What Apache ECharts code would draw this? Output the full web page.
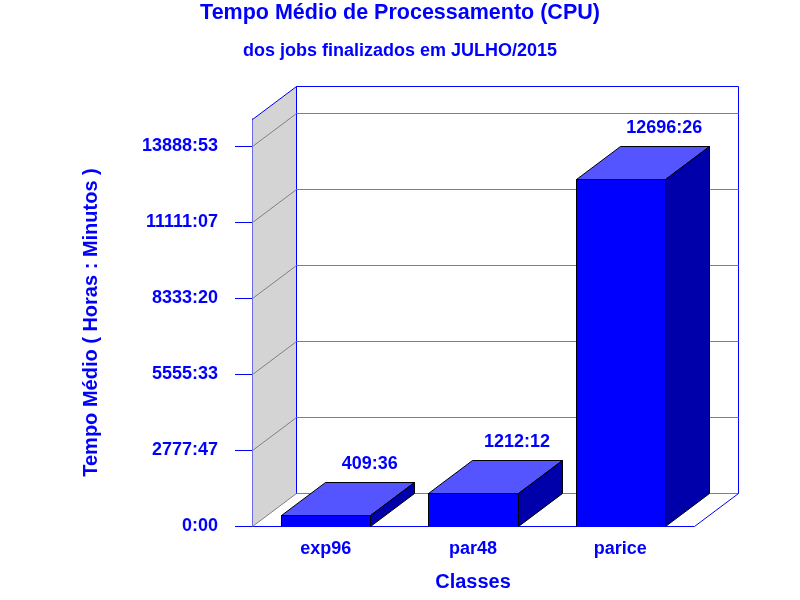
<!DOCTYPE html>
<html><head><meta charset="utf-8">
<style>html,body{margin:0;padding:0;background:#fff}#c{width:800px;height:600px}</style>
<script src="https://cdn.jsdelivr.net/npm/echarts@6/dist/echarts.min.js"></script>
</head><body><div id="c"></div>
<script>
const categories = ['exp96', 'par48', 'parice'];
const hours = [409.6, 1212.2, 12696.43];
const valueLabels = ['409:36', '1212:12', '12696:26'];
const tickValues = [0, 2777.78, 5555.55, 8333.33, 11111.12, 13888.88];
const tickLabels = ['0:00', '2777:47', '5555:33', '8333:20', '11111:07', '13888:53'];
const axisMax = 14876;

const DX = 44, DY = 33;
const BLUE = '#0000ff', GRAY = '#808080', WALL = '#d4d4d4';
const FONT = 'Liberation Sans, Arial, sans-serif';
const chart = echarts.init(document.getElementById('c'), null, {renderer: 'canvas'});

const crisp = v => Math.round(v) + 0.5;
function line(a, b, color) {
  return {type: 'line', shape: {x1: crisp(a[0]), y1: crisp(a[1]), x2: crisp(b[0]), y2: crisp(b[1])},
          style: {stroke: color, lineWidth: 1}};
}
function poly(points, fill, stroke) {
  return {type: 'polygon', shape: {points: points.map(p => [crisp(p[0]), crisp(p[1])])},
          style: {fill, stroke, lineWidth: 1}};
}

chart.setOption({
  animation: false,
  backgroundColor: '#fff',
  title: [
    {text: 'Tempo Médio de Processamento (CPU)', left: 395, top: -3, textAlign: 'center',
     textStyle: {color: BLUE, fontFamily: FONT, fontWeight: 'bold', fontSize: 21.5}},
    {text: 'dos jobs finalizados em JULHO/2015', left: 395, top: 37, textAlign: 'center',
     textStyle: {color: BLUE, fontFamily: FONT, fontWeight: 'bold', fontSize: 18}}
  ],
  grid: {left: 252, right: 106, top: 119, bottom: 74},
  xAxis: {
    type: 'category', data: categories,
    name: 'Classes', nameLocation: 'middle', nameGap: 46,
    nameTextStyle: {color: BLUE, fontFamily: FONT, fontWeight: 'bold', fontSize: 20},
    axisLine: {show: true, lineStyle: {color: BLUE, width: 1}},
    axisTick: {show: false},
    splitLine: {show: false},
    axisLabel: {color: BLUE, fontFamily: FONT, fontWeight: 'bold', fontSize: 18, margin: 14}
  },
  yAxis: {
    type: 'value', min: 0, max: axisMax,
    name: 'Tempo Médio ( Horas : Minutos )', nameLocation: 'middle', nameGap: 151, nameRotate: 90,
    nameTextStyle: {color: BLUE, fontFamily: FONT, fontWeight: 'bold', fontSize: 20},
    axisLine: {show: true, lineStyle: {color: BLUE, width: 1}},
    axisTick: {show: true, length: 17, lineStyle: {color: BLUE, width: 1}, customValues: tickValues},
    splitLine: {show: false},
    axisLabel: {
      color: BLUE, fontFamily: FONT, fontWeight: 'bold', fontSize: 18, margin: 34,
      customValues: tickValues,
      formatter: v => tickLabels[tickValues.indexOf(v)]
    }
  },
  series: [
    { // walls and floor
      type: 'custom', z: 1, silent: true, data: [[0]],
      renderItem(params, api) {
        const c = params.coordSys;
        const L = c.x, R = c.x + c.width, T = c.y, B = c.y + c.height;
        return {type: 'group', children: [
          poly([[L, T], [L + DX, T - DY], [L + DX, B - DY], [L, B]], WALL, null),
          line([L, B], [L + DX, B - DY], GRAY),
          line([L + DX, B - DY], [R + DX, B - DY], GRAY),
          line([L, T], [L + DX, T - DY], BLUE),
          line([L + DX, T - DY], [R + DX, T - DY], BLUE),
          line([L + DX, T - DY], [L + DX, B - DY], BLUE),
          line([R + DX, T - DY], [R + DX, B - DY], BLUE),
          line([R, B], [R + DX, B - DY], BLUE)
        ]};
      }
    },
    { // grid lines, left wall then back wall
      type: 'custom', z: 2, silent: true, data: tickValues.slice(1).map(v => [0, v]),
      encode: {y: 1},
      renderItem(params, api) {
        const c = params.coordSys;
        const y = api.coord([0, api.value(1)])[1];
        const L = c.x, R = c.x + c.width;
        return {type: 'group', children: [
          line([L, y], [L + DX, y - DY], GRAY),
          line([L + DX, y - DY], [R + DX, y - DY], GRAY)
        ]};
      }
    },
    { // 3D bars
      type: 'custom', z: 3, data: hours.map((v, i) => [i, v]),
      encode: {x: 0, y: 1},
      renderItem(params, api) {
        const p = api.coord([api.value(0), api.value(1)]);
        const b = api.coord([api.value(0), 0]);
        const w = api.size([1, 0])[0] * 0.605;
        const l = p[0] - w / 2, r = p[0] + w / 2, t = p[1], g = b[1];
        return {type: 'group', children: [
          poly([[l, t], [l + DX, t - DY], [r + DX, t - DY], [r, t]], '#5555ff', '#000'),
          poly([[r, t], [r + DX, t - DY], [r + DX, g - DY], [r, g]], '#0000aa', '#000'),
          {type: 'rect', shape: {x: crisp(l), y: crisp(t), width: crisp(r) - crisp(l), height: crisp(g) - crisp(t)},
           style: {fill: BLUE, stroke: '#000', lineWidth: 1}},
          line([l, g], [r, g], BLUE),
          {type: 'text', style: {
            text: valueLabels[params.dataIndex], x: p[0] + DX, y: t - DY - 18,
            align: 'center', verticalAlign: 'middle',
            fill: BLUE, font: 'bold 18px ' + FONT
          }}
        ]};
      }
    }
  ]
});
</script></body></html>
